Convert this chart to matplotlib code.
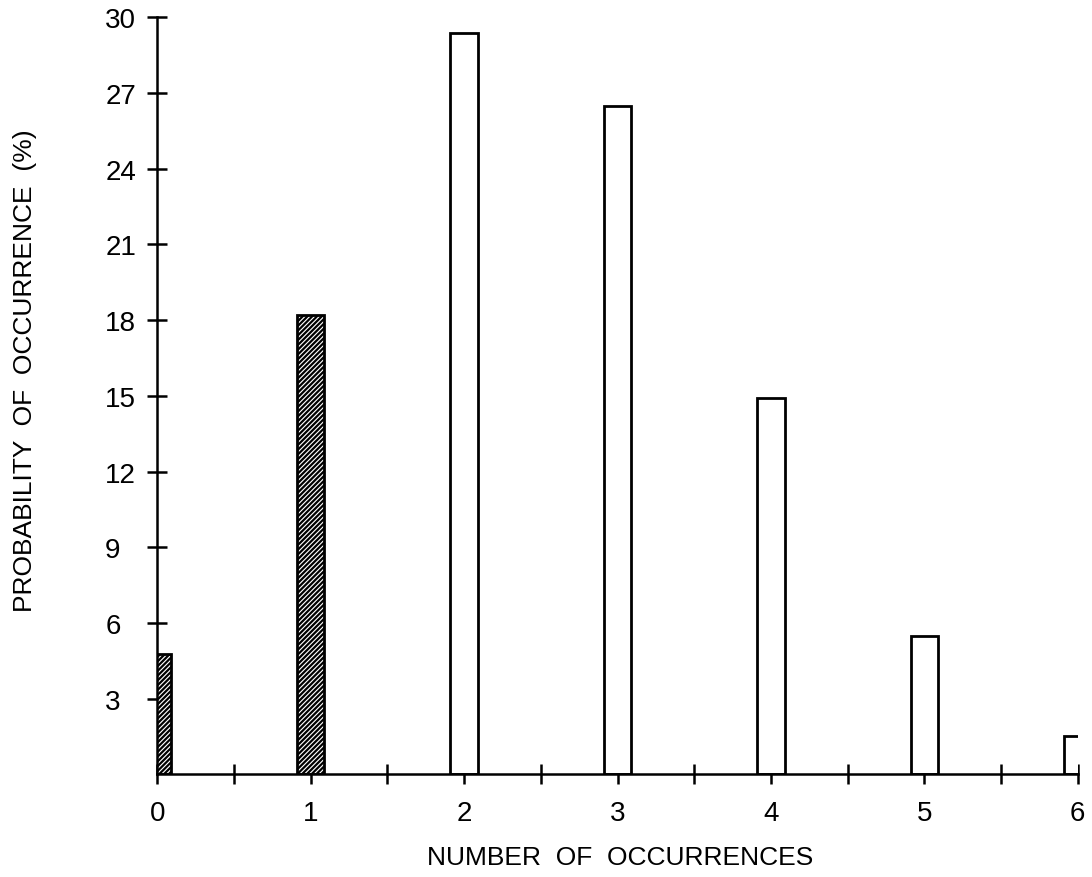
import matplotlib.pyplot as plt
import numpy as np

plt.rcParams['font.family'] = ['Liberation Sans', 'DejaVu Sans']

occurrences = [0, 1, 2, 3, 4, 5, 6]
probability = [4.75, 18.2, 29.4, 26.5, 14.9, 5.5, 1.5]
hatched = [True, True, False, False, False, False, False]
y_ticks = [3, 6, 9, 12, 15, 18, 21, 24, 27, 30]

fig = plt.figure(figsize=(10.92, 8.78), dpi=100)
ax = fig.add_axes([0.144, 0.117, 0.843, 0.862])

plt.rcParams['hatch.linewidth'] = 1.6
for x, p, h in zip(occurrences, probability, hatched):
    ax.bar(x, p, width=0.18, facecolor='white', edgecolor='black',
           linewidth=2, hatch='///////' if h else None, zorder=2)

ax.set_xlim(0, 6)
ax.set_ylim(0, 30)
ax.spines['top'].set_visible(False)
ax.spines['right'].set_visible(False)
ax.spines['left'].set_linewidth(1.8)
ax.spines['bottom'].set_linewidth(1.8)

ax.set_xticks(occurrences)
ax.set_xticks(np.arange(0.5, 6, 1), minor=True)
ax.set_yticks(y_ticks)
ax.tick_params(axis='both', which='both', direction='inout', length=15,
               width=1.8, labelsize=20)
ax.tick_params(axis='x', pad=11)
ax.tick_params(axis='y', pad=30)
for lbl in ax.get_yticklabels():
    lbl.set_horizontalalignment('left')

ax.set_xlabel('NUMBER  OF  OCCURRENCES', fontsize=19)
ax.set_ylabel('PROBABILITY  OF  OCCURRENCE  (%)', fontsize=19)
# label positions in axes coords (axis spans px 157-1078 and 18-775)
ax.xaxis.set_label_coords(0.503, -0.109)
ax.yaxis.set_label_coords(-0.144, 0.535)
ax.xaxis.label.set_verticalalignment('center')
ax.yaxis.label.set_verticalalignment('center')

fig.savefig('out.png', dpi=100)
